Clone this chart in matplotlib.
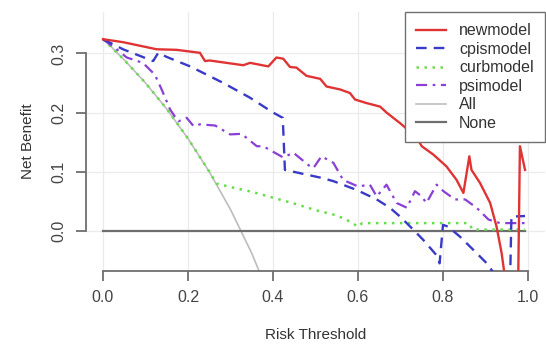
import matplotlib
matplotlib.use("Agg")
import matplotlib.pyplot as plt

plt.rcParams['font.family'] = ['Liberation Sans', 'DejaVu Sans']

# ---- data ----
new_x = [0.0, 0.047, 0.126, 0.173, 0.228, 0.240, 0.251, 0.330, 0.346, 0.389, 0.408, 0.424,
         0.440, 0.455, 0.479, 0.511, 0.526, 0.558, 0.581, 0.593, 0.620, 0.652, 0.667, 0.683,
         0.699, 0.722, 0.734, 0.750, 0.777, 0.808, 0.832, 0.848, 0.862, 0.867, 0.887, 0.911,
         0.926, 0.938, 0.946, 0.977, 0.981, 0.993]
new_y = [0.324, 0.319, 0.307, 0.306, 0.301, 0.287, 0.288, 0.280, 0.284, 0.278, 0.293, 0.291,
         0.277, 0.276, 0.262, 0.257, 0.244, 0.239, 0.233, 0.222, 0.216, 0.210, 0.200, 0.191,
         0.182, 0.168, 0.163, 0.143, 0.129, 0.109, 0.086, 0.064, 0.126, 0.103, 0.081, 0.047,
         0.007, -0.038, -0.080, -0.080, 0.143, 0.103]

cpis_x = [0.0, 0.047, 0.118, 0.130, 0.150, 0.205, 0.283, 0.346, 0.400, 0.423, 0.428, 0.479,
          0.511, 0.542, 0.597, 0.644, 0.675, 0.699, 0.730, 0.753, 0.788, 0.792, 0.800, 0.812,
          0.840, 0.871, 0.903, 0.918, 0.958, 0.961, 0.993]
cpis_y = [0.324, 0.307, 0.287, 0.301, 0.294, 0.278, 0.250, 0.225, 0.200, 0.191, 0.103, 0.095,
          0.090, 0.084, 0.069, 0.053, 0.039, 0.024, 0.002, -0.015, -0.044, -0.055, 0.010, 0.007,
          -0.010, -0.032, -0.055, -0.070, -0.080, 0.024, 0.025]

curb_x = [0.0, 0.05, 0.10, 0.15, 0.20, 0.25, 0.267, 0.30, 0.35, 0.40, 0.45, 0.50, 0.55, 0.58,
          0.60, 0.61, 0.86, 0.87, 0.993]
curb_y = [0.324, 0.289, 0.250, 0.206, 0.156, 0.100, 0.080, 0.074, 0.066, 0.056, 0.046, 0.035,
          0.026, 0.016, 0.007, 0.013, 0.013, 0.002, 0.002]

psi_x = [0.0, 0.032, 0.056, 0.094, 0.122, 0.138, 0.158, 0.177, 0.197, 0.213, 0.228, 0.264,
         0.299, 0.326, 0.362, 0.377, 0.424, 0.448, 0.487, 0.495, 0.514, 0.542, 0.565, 0.600,
         0.628, 0.644, 0.667, 0.691, 0.715, 0.734, 0.750, 0.761, 0.785, 0.801, 0.828, 0.852,
         0.879, 0.907, 0.934, 0.965, 0.993]
psi_y = [0.324, 0.307, 0.293, 0.284, 0.264, 0.239, 0.205, 0.185, 0.191, 0.177, 0.180, 0.178,
         0.163, 0.164, 0.143, 0.143, 0.124, 0.132, 0.109, 0.106, 0.126, 0.115, 0.086, 0.075,
         0.078, 0.058, 0.078, 0.047, 0.039, 0.067, 0.058, 0.047, 0.078, 0.067, 0.053, 0.053,
         0.039, 0.019, 0.013, 0.013, 0.013]

all_x = [0.0, 0.05, 0.10, 0.15, 0.20, 0.25, 0.30, 0.35, 0.40]
all_y = [0.325, 0.289, 0.250, 0.206, 0.156, 0.100, 0.036, -0.038, -0.125]

none_x = [0.0, 0.993]
none_y = [0.0, 0.0]

series_names = ["newmodel", "cpismodel", "curbmodel", "psimodel", "All", "None"]
x_ticks = [0.0, 0.2, 0.4, 0.6, 0.8, 1.0]
y_ticks = [0.0, 0.1, 0.2, 0.3]

# ---- figure ----
fig = plt.figure(figsize=(5.46, 3.45), dpi=100)
ax = fig.add_axes([86/546, 1-271/345, (545-86)/546, (271-12)/345])
ax.set_xlim(-0.04, 1.04)
ax.set_ylim(-0.068, 0.37)

for t in x_ticks:
    ax.axvline(t, color='#ebebeb', lw=0.9, zorder=0)
for t in y_ticks:
    ax.axhline(t, color='#ebebeb', lw=0.9, zorder=0)

ax.plot(all_x, all_y, color='#bdbdbd', lw=1.2, label=series_names[4], zorder=2)
ax.plot(none_x, none_y, color='#6e6e6e', lw=1.6, label=series_names[5], zorder=2)
ax.plot(curb_x, curb_y, color='#66dd4a', lw=1.8, ls=(0, (1, 2.2)), label=series_names[2], zorder=3)
ax.plot(psi_x, psi_y, color='#8a3fd6', lw=1.6, ls=(0, (5, 2.5, 1.2, 2.5)), label=series_names[3], zorder=3)
ax.plot(cpis_x, cpis_y, color='#3a3ac8', lw=1.7, ls=(0, (4.5, 3)), label=series_names[1], zorder=4)
ax.plot(new_x, new_y, color='#e03434', lw=1.7, label=series_names[0], zorder=5)

handles, labels = ax.get_legend_handles_labels()
order = [labels.index(n) for n in series_names]
leg = ax.legend([handles[i] for i in order], [labels[i] for i in order],
                loc='upper right', bbox_to_anchor=(1.0, 1.0), fontsize=11.5,
                frameon=True, fancybox=False, edgecolor='#707070', framealpha=1,
                borderaxespad=0, handlelength=1.9, labelspacing=0.22, borderpad=0.7,
                handletextpad=0.8)
leg.get_frame().set_linewidth(1.0)
for t in leg.get_texts():
    t.set_color('#333333')

for s in ['top', 'right']:
    ax.spines[s].set_visible(False)
ax.spines['bottom'].set_bounds(0.0, 1.0)
ax.spines['left'].set_bounds(0.0, 0.3)
for s in ['bottom', 'left']:
    ax.spines[s].set_color('#6e6e6e')
    ax.spines[s].set_linewidth(1.3)

ax.set_xticks(x_ticks)
ax.set_xticklabels([f"{v:.1f}" for v in x_ticks])
ax.set_yticks(y_ticks)
ax.set_yticklabels([f"{v:.1f}" for v in y_ticks], rotation=90, va='center')
ax.tick_params(axis='both', direction='out', length=7, width=1.3, color='#6e6e6e',
               labelsize=11.5, labelcolor='#444444', pad=7)

ax.set_xlabel("Risk Threshold", fontsize=11, color='#333333', labelpad=16)
ax.set_ylabel("Net Benefit", fontsize=11, color='#333333', labelpad=12)

fig.savefig("out.png", dpi=100)
